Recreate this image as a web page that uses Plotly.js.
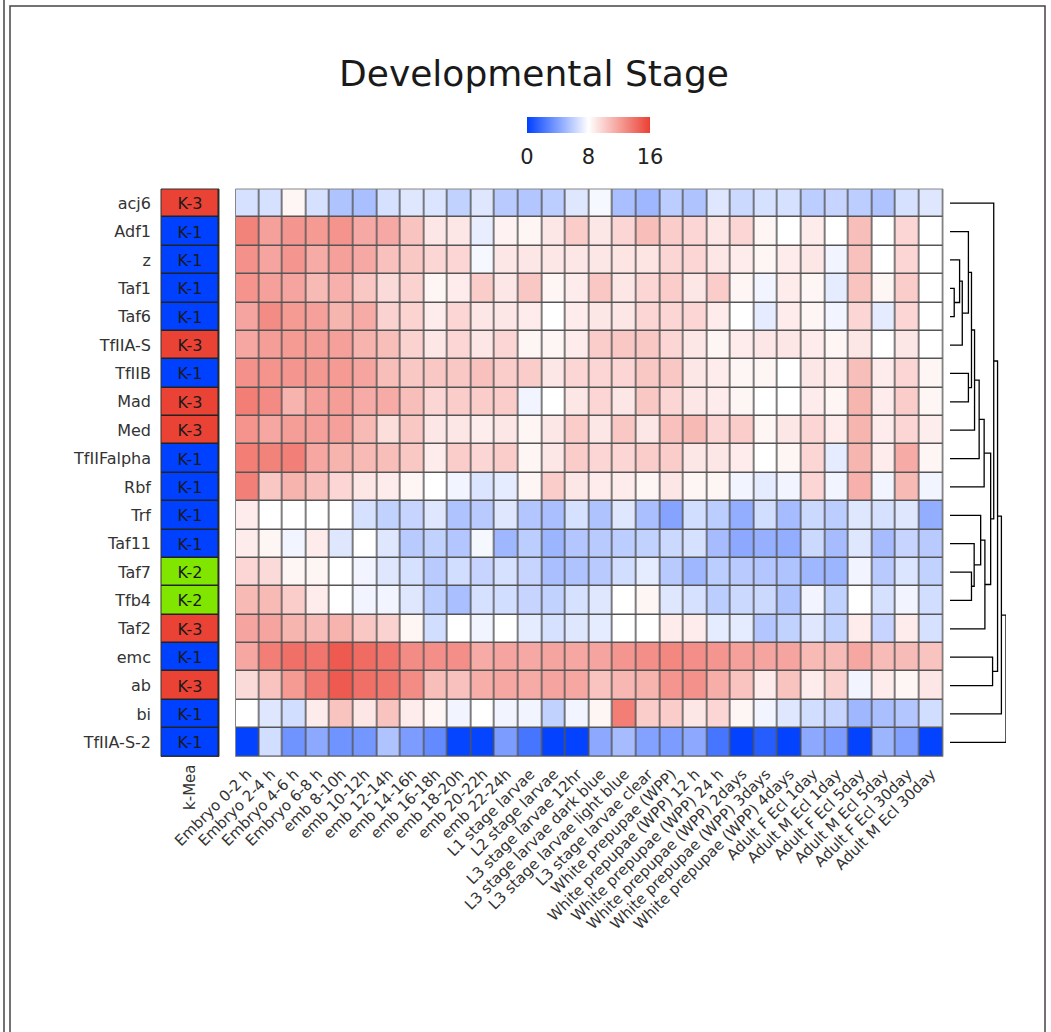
<!DOCTYPE html>
<html>
<head>
<meta charset="utf-8">
<script src="https://cdn.plot.ly/plotly-3.0.1.min.js"></script>
<style>html,body{margin:0;padding:0;background:#fff;}#chart{width:1051px;height:1032px;}</style>
</head>
<body>
<div id="chart"></div>
<script>
const genes = ['acj6','Adf1','z','Taf1','Taf6','TfIIA-S','TfIIB','Mad','Med','TfIIFalpha','Rbf','Trf','Taf11','Taf7','Tfb4','Taf2','emc','ab','bi','TfIIA-S-2'];
const clusters = [3,1,1,1,1,3,1,3,3,1,1,1,1,2,2,3,1,3,1,1];
const clusterLabel = 'k-Mea';
const stages = ['Embryo 0-2 h','Embryo 2-4 h','Embryo 4-6 h','Embryo 6-8 h','emb 8-10h','emb 10-12h','emb 12-14h','emb 14-16h','emb 16-18h','emb 18-20h','emb 20-22h','emb 22-24h','L1 stage larvae','L2 stage larvae','L3 stage larvae 12hr','L3 stage larvae dark blue','L3 stage larvae light blue','L3 stage larvae clear','White prepupae (WPP)','White prepupae (WPP) 12 h','White prepupae (WPP) 24 h','White prepupae (WPP) 2days','White prepupae (WPP) 3days','White prepupae (WPP) 4days','Adult F Ecl 1day','Adult M Ecl 1day','Adult F Ecl 5day','Adult M Ecl 5day','Adult F Ecl 30day','Adult M Ecl 30day'];

const acj6 = [6.7,6.7,8.4,6.7,5.5,5.3,6.7,7.0,6.9,6.1,7.0,5.8,5.6,5.9,7.0,7.7,5.3,5.0,5.9,5.5,7.0,6.4,6.7,6.7,5.9,6.2,5.9,5.5,6.7,7.0];
const Adf1 = [13.2,12.0,12.4,12.2,12.5,11.6,11.6,10.5,9.0,9.0,7.3,8.5,8.4,9.0,10.1,9.0,9.7,10.7,10.1,9.7,9.0,9.7,8.4,8.0,8.8,8.0,10.7,8.0,9.7,8.0];
const z_ = [12.6,11.8,12.4,11.5,12.0,11.6,10.6,10.3,9.7,9.7,7.7,9.0,9.0,9.0,9.0,9.0,9.1,9.1,9.7,9.7,9.0,8.8,8.4,8.8,9.0,7.6,10.6,8.0,9.7,8.0];
const Taf1 = [12.5,12.0,11.8,10.9,11.3,10.3,9.5,9.9,8.4,8.8,10.1,9.0,10.3,8.4,8.8,10.3,9.0,9.7,10.1,9.0,10.1,8.4,7.6,8.8,8.4,7.2,10.5,8.4,10.1,8.0];
const Taf6 = [11.8,12.8,12.2,12.0,11.1,11.5,9.9,9.8,8.8,9.7,9.0,9.0,8.8,8.0,8.8,9.0,9.0,9.7,9.7,9.7,8.8,8.0,7.2,8.8,8.4,7.6,9.7,7.2,9.7,8.0];
const TfIIA_S = [11.7,12.1,12.2,12.1,12.0,11.2,10.7,9.9,9.0,9.7,9.0,9.7,8.4,8.4,8.8,10.1,10.3,10.3,9.7,9.0,8.4,8.8,9.0,9.0,8.8,8.4,9.0,8.0,9.0,8.0];
const TfIIB = [12.6,12.5,12.4,12.3,12.2,11.8,10.7,10.3,10.3,10.3,10.6,10.1,10.1,9.0,9.7,9.7,9.7,10.3,10.3,9.0,8.8,8.4,8.4,8.0,9.0,8.8,10.7,8.8,9.7,8.4];
const Mad = [13.4,12.9,11.2,12.0,12.1,11.5,11.5,10.7,9.7,10.1,10.1,10.1,7.6,8.0,9.0,9.7,9.0,10.3,9.7,9.0,8.8,8.4,8.0,8.0,8.8,8.4,11.1,8.8,10.1,8.4];
const Med = [12.5,11.7,12.1,12.0,12.0,10.9,9.4,10.3,9.0,9.0,8.7,9.0,8.4,9.0,10.1,9.0,10.3,9.0,10.6,10.9,9.7,10.1,8.4,9.0,9.7,8.8,11.1,8.8,9.7,8.7];
const TfIIFalpha = [13.4,13.2,13.3,11.7,11.2,10.9,10.7,10.3,8.8,10.1,9.7,10.1,8.4,9.0,10.1,9.7,9.7,10.1,10.1,9.0,9.0,8.8,8.0,8.4,9.7,7.2,11.1,8.8,11.5,8.4];
const Rbf = [13.3,10.3,11.2,10.6,9.7,9.0,8.8,8.4,8.0,7.6,6.9,7.2,8.4,10.1,9.0,8.8,8.8,8.4,9.0,8.4,8.4,7.6,7.2,7.6,9.7,7.6,11.3,7.6,10.9,7.6];
const Trf = [8.8,8.0,8.0,8.0,8.0,6.7,6.1,6.2,7.0,5.5,5.8,7.0,5.6,5.3,6.7,5.5,7.0,5.3,4.2,6.6,5.9,4.6,6.6,5.2,6.4,5.9,7.0,6.7,7.0,4.6];
const Taf11 = [8.8,8.4,7.6,8.8,7.0,8.0,7.0,5.8,6.1,5.6,7.7,5.0,5.9,4.9,5.6,5.8,5.9,6.1,6.4,6.7,5.2,4.4,4.7,4.6,6.4,5.2,7.0,5.2,6.2,5.8];
const Taf7 = [9.7,9.5,8.4,8.4,8.0,7.6,7.0,6.7,5.8,6.6,6.2,6.7,6.2,5.3,5.5,5.8,6.6,7.2,5.8,5.0,5.9,5.8,5.6,5.5,5.0,4.9,7.6,5.8,6.9,6.1];
const Tfb4 = [10.9,10.9,10.1,8.8,8.0,7.6,7.6,7.0,5.9,5.3,6.7,6.6,6.2,6.1,6.7,7.0,8.0,8.4,7.0,6.7,5.9,6.4,6.4,5.5,7.6,6.1,8.0,6.7,7.6,6.6];
const Taf2 = [11.8,11.8,11.1,10.8,11.2,10.3,9.9,8.4,6.6,8.0,7.6,8.0,7.2,6.7,7.0,7.2,8.0,8.0,8.8,8.8,7.2,7.2,5.6,6.1,7.0,6.1,8.8,6.2,8.8,6.7];
const emc = [11.7,13.4,14.0,13.8,14.9,14.2,13.8,12.8,12.7,12.7,11.5,11.8,11.6,11.8,11.7,11.8,12.4,12.7,13.0,12.7,12.4,12.0,11.8,11.8,10.9,10.8,11.7,10.8,10.8,10.5];
const ab = [9.5,10.5,12.2,13.6,14.9,14.0,13.7,12.8,10.7,10.6,11.4,11.7,11.5,11.8,11.7,10.5,11.0,11.2,12.4,12.6,11.4,10.5,8.8,10.5,8.8,9.9,7.6,8.8,8.4,9.0];
const bi = [8.0,7.0,6.6,8.8,10.5,9.0,10.5,8.8,8.4,7.6,8.0,7.6,7.6,6.1,7.6,8.4,13.4,10.1,10.1,9.0,9.7,8.4,7.6,7.0,6.6,6.2,5.0,5.3,5.6,6.6];
const TfIIA_S_2 = [0.1,6.6,3.5,4.4,3.5,3.6,5.5,3.9,3.1,0.2,0.2,3.9,2.2,0.1,0.1,4.4,5.2,4.1,3.9,4.4,2.2,0.1,1.2,0.1,4.4,3.9,0.1,4.9,4.1,0.1];

// dendrogram merges: nodes 0..19 are rows, node 20+k is merge k
const mergeLeft   = [3, 2, 21, 1, 6, 23, 25, 26, 27, 13, 12, 11, 31, 28, 0, 16, 34, 36, 37];
const mergeRight  = [4, 20, 5, 22, 7, 24, 8, 9, 10, 14, 29, 30, 15, 32, 33, 17, 35, 18, 19];
const mergeHeight = [11, 25, 32, 48, 48, 56, 64, 76, 89, 56, 63, 80, 91, 106, 114, 111, 124, 134, 146];

const Z = [acj6, Adf1, z_, Taf1, Taf6, TfIIA_S, TfIIB, Mad, Med, TfIIFalpha, Rbf, Trf, Taf11, Taf7, Tfb4, Taf2, emc, ab, bi, TfIIA_S_2];

const W = 1051, H = 1032;
const px = v => v / W;
const py = v => 1 - v / H;
const rowIdx = genes.map((_, i) => i);
const colIdx = stages.map((_, i) => i);
const FONT = 'DejaVu Sans, Verdana, sans-serif';

// dendrogram segments
const pos = rowIdx.slice();
const ht = rowIdx.map(() => 0);
const dx = [], dy = [];
for (let k = 0; k < mergeLeft.length; k++) {
  const L = mergeLeft[k], R = mergeRight[k], h = mergeHeight[k];
  dx.push(ht[L], h, h, ht[R], null);
  dy.push(pos[L], pos[L], pos[R], pos[R], null);
  pos.push((pos[L] + pos[R]) / 2);
  ht.push(h);
}

const clusterColors = [[0, 'rgb(0,64,255)'], [0.5, 'rgb(128,230,0)'], [1, 'rgb(234,66,52)']];

const traces = [
  {
    type: 'heatmap', x: colIdx, y: rowIdx, z: Z,
    zmin: 0, zmax: 16,
    colorscale: [[0, 'rgb(0,64,255)'], [0.5, 'rgb(255,255,255)'], [1, 'rgb(235,64,52)']],
    xgap: 1.5, ygap: 1.5,
    xaxis: 'x', yaxis: 'y',
    hoverinfo: 'z',
    colorbar: {
      orientation: 'h', thickness: 16, lenmode: 'pixels', len: 123,
      x: px(588.5), xanchor: 'center', y: py(117), yanchor: 'top',
      xpad: 0, ypad: 0, outlinewidth: 0,
      tickvals: [0, 8, 16], ticks: 'outside', ticklen: 6, tickcolor: 'rgba(0,0,0,0)',
      tickfont: {size: 21, color: '#222', family: FONT}
    }
  },
  {
    type: 'heatmap', x: [0], y: rowIdx, z: clusters.map(c => [c]),
    text: clusters.map(c => ['K-' + c]), texttemplate: '%{text}',
    textfont: {size: 16, color: '#1a1a1a', family: FONT},
    zmin: 1, zmax: 3, colorscale: clusterColors, showscale: false,
    xgap: 1.5, ygap: 1.5,
    xaxis: 'x2', yaxis: 'y', hoverinfo: 'text'
  },
  {
    type: 'scatter', mode: 'lines', x: dx, y: dy,
    line: {color: '#000', width: 1.3},
    xaxis: 'x3', yaxis: 'y', hoverinfo: 'skip', connectgaps: false, showlegend: false
  }
];

const layout = {
  width: W, height: H,
  margin: {l: 0, r: 0, t: 0, b: 0},
  paper_bgcolor: '#fff', plot_bgcolor: 'rgba(0,0,0,0)',
  font: {family: FONT, color: '#333'},
  showlegend: false,
  title: {
    text: 'Developmental Stage', x: px(534), xanchor: 'center', y: py(73), yanchor: 'middle',
    font: {size: 36, color: '#1a1a1a', family: FONT}
  },
  xaxis: {
    domain: [px(235.5), px(943)], anchor: 'y', range: [-0.5, stages.length - 0.5],
    tickvals: colIdx, ticktext: stages, tickangle: -45, ticks: '',
    tickfont: {size: 15, color: '#333'}, showgrid: false, zeroline: false, showline: false,
    ticklabelstandoff: 5, automargin: false
  },
  xaxis2: {
    domain: [px(161), px(219)], anchor: 'y', range: [-0.5, 0.5],
    tickvals: [0], ticktext: [clusterLabel], tickangle: -90, ticks: '',
    tickfont: {size: 15, color: '#333'}, showgrid: false, zeroline: false, showline: false,
    ticklabelstandoff: 4, automargin: false
  },
  xaxis3: {
    domain: [px(950), px(1006)], anchor: 'y', range: [0, Math.max(...mergeHeight)],
    visible: false, showgrid: false, zeroline: false
  },
  yaxis: {
    domain: [py(756.5), py(189)], anchor: 'x2', range: [genes.length - 0.5, -0.5],
    tickvals: rowIdx, ticktext: genes, ticks: '',
    tickfont: {size: 16, color: '#333'}, showgrid: false, zeroline: false, showline: false,
    ticklabelstandoff: 9, automargin: false
  },
  shapes: [
    {type: 'rect', xref: 'x domain', yref: 'y domain', x0: 0, x1: 1, y0: 0, y1: 1,
     layer: 'below', fillcolor: '#555', line: {width: 0}},
    {type: 'rect', xref: 'x domain', yref: 'y domain', x0: 0, x1: 1, y0: 0, y1: 1,
     layer: 'above', fillcolor: 'rgba(0,0,0,0)', line: {color: '#888', width: 1}},
    {type: 'rect', xref: 'x2 domain', yref: 'y domain', x0: 0, x1: 1, y0: 0, y1: 1,
     layer: 'below', fillcolor: '#222', line: {width: 0}},
    {type: 'rect', xref: 'x2 domain', yref: 'y domain', x0: 0, x1: 1, y0: 0, y1: 1,
     layer: 'above', fillcolor: 'rgba(0,0,0,0)', line: {color: '#333', width: 1}},
    {type: 'line', xref: 'paper', yref: 'paper', x0: px(4), x1: px(4), y0: -0.01, y1: 1.01,
     line: {color: '#444', width: 1.5}},
    {type: 'rect', xref: 'paper', yref: 'paper', x0: px(10), x1: px(1045), y0: -0.02, y1: py(6),
     fillcolor: 'rgba(0,0,0,0)', line: {color: '#444', width: 1.5}}
  ]
};

Plotly.newPlot('chart', traces, layout, {displayModeBar: false, staticPlot: true});
</script>
</body>
</html>
